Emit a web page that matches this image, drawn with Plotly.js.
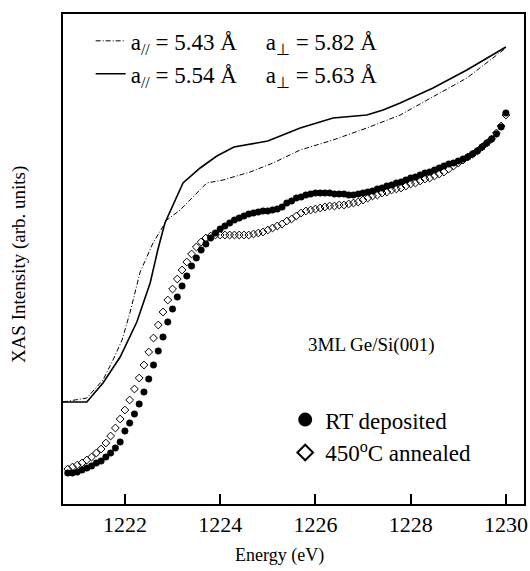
<!DOCTYPE html>
<html>
<head>
<meta charset="utf-8">
<script src="https://cdn.plot.ly/plotly-3.0.1.min.js"></script>
<style>html,body{margin:0;padding:0;background:#fff;}#chart{width:530px;height:571px;}</style>
</head>
<body>
<div id="chart"></div>
<script>
// Measured spectra (energy in eV, intensity in arbitrary units)
const energyDots = [1220.8,1220.9,1221.0,1221.1,1221.2,1221.3,1221.4,1221.5,1221.6,1221.7,1221.8,1221.9,
  1222.0,1222.1,1222.2,1222.3,1222.4,1222.5,1222.6,1222.7,1222.8,1222.9,
  1223.0,1223.1,1223.2,1223.3,1223.4,1223.5,1223.6,1223.7,1223.8,1223.9,
  1224.0,1224.1,1224.2,1224.3,1224.4,1224.5,1224.6,1224.7,1224.8,1224.9,
  1225.0,1225.1,1225.2,1225.3,1225.4,1225.5,1225.6,1225.7,1225.8,1225.9,
  1226.0,1226.1,1226.2,1226.3,1226.4,1226.5,1226.6,1226.7,1226.8,1226.9,
  1227.0,1227.1,1227.2,1227.3,1227.4,1227.5,1227.6,1227.7,1227.8,1227.9,
  1228.0,1228.1,1228.2,1228.3,1228.4,1228.5,1228.6,1228.7,1228.8,1228.9,
  1229.0,1229.1,1229.2,1229.3,1229.4,1229.5,1229.6,1229.7,1229.8,1229.9,1230.0];

const rtDeposited = [31,31,32,34,36,38,41,43,47,51,56,62,
  73,81,90,100,112,125,139,153,167,182,
  195,207,218,228,238,246,254,260,266,271,
  275,278,281,284,286,288,290,291,292,293,
  293,294,295,297,301,303,306,307,309,310,
  311,311,311,311,310,310,310,309,309,310,
  311,312,313,315,316,318,319,321,322,324,
  326,327,329,331,332,334,336,338,340,341,
  343,345,347,350,353,357,361,365,370,377,391];

const annealed450 = [35,37,39,41,44,47,51,55,61,68,76,85,
  94,104,115,126,139,152,166,179,192,204,
  215,225,234,242,250,257,262,266,268,269,
  269,269,269,269,269,269,269,270,271,272,
  274,276,278,280,283,285,288,291,293,294,
  295,296,297,298,298,299,299,300,301,302,
  304,306,308,309,311,312,314,315,316,318,
  320,321,323,325,326,328,330,332,335,338,
  341,344,347,350,353,357,361,365,371,378,389];

// Simulated spectra
const energySimA = [1220.70,1221.20,1221.54,1221.75,1221.94,1222.11,1222.32,1222.59,1222.88,1223.16,1223.51,
  1223.72,1224.06,1224.63,1225.11,1225.68,1226.37,1227.08,1227.78,1228.47,1229.18,1230.0];
const simA = [102,106,124,144,164,192,232,261,284,294,311,
  321,324,332,341,354,364,376,389,407,426,456];

const energySimB = [1220.70,1221.20,1221.54,1221.90,1222.25,1222.53,1222.69,1222.84,1223.22,1223.58,1223.93,
  1224.29,1225.00,1225.36,1225.68,1226.37,1227.08,1227.42,1227.78,1228.47,1229.18,1230.0];
const simB = [102,102,121,147,182,221,254,281,321,336,348,
  357,363,370,376,386,389,394,401,416,434,457];

const xTicks = [1222,1224,1226,1228,1230];
const labelSimA = 'a<sub>//</sub> = 5.43 Å\u00A0\u00A0\u00A0\u00A0 a<sub>⊥</sub> = 5.82 Å';
const labelSimB = 'a<sub>//</sub> = 5.54 Å\u00A0\u00A0\u00A0\u00A0 a<sub>⊥</sub> = 5.63 Å';
const labelRT = 'RT deposited';
const labelAnn = '450<sup>o</sup>C annealed';

const FONT = 'Liberation Serif, Times New Roman, serif';

const traces = [
  {x: energySimA, y: simA, type: 'scatter', mode: 'lines', name: labelSimA, legend: 'legend2',
   line: {color: '#000', width: 1, dash: '5px,2px,1px,2px'}},
  {x: energySimB, y: simB, type: 'scatter', mode: 'lines', name: labelSimB, legend: 'legend2',
   line: {color: '#000', width: 1.6}},
  {x: energyDots, y: rtDeposited, type: 'scatter', mode: 'markers', name: labelRT, legend: 'legend',
   marker: {symbol: 'circle', size: 6.5, color: '#000', line: {color: '#000', width: 0.5}}},
  {x: energyDots, y: annealed450, type: 'scatter', mode: 'markers', name: labelAnn, legend: 'legend',
   marker: {symbol: 'diamond-open', size: 6, color: '#000', line: {color: '#000', width: 1}}}
];

const layout = {
  width: 530, height: 571,
  margin: {l: 63, r: 6, t: 14, b: 67},
  paper_bgcolor: '#fff', plot_bgcolor: '#fff',
  font: {family: FONT, size: 21, color: '#000'},
  showlegend: true,
  xaxis: {
    range: [1220.70, 1230.38], tickvals: xTicks, ticktext: xTicks.map(String),
    ticks: 'inside', ticklen: 10, tickwidth: 2, tickcolor: '#000',
    showline: true, linewidth: 2, linecolor: '#000', mirror: true,
    showgrid: false, zeroline: false, tickfont: {family: FONT, size: 22}
  },
  yaxis: {
    range: [0, 490], showticklabels: false, ticks: '',
    showline: true, linewidth: 2, linecolor: '#000', mirror: true,
    showgrid: false, zeroline: false
  },
  legend: {
    x: 0.482, y: 0.216, xanchor: 'left', yanchor: 'top',
    bgcolor: 'rgba(0,0,0,0)', borderwidth: 0, itemsizing: 'constant',
    font: {family: FONT, size: 23}, tracegroupgap: 0
  },
  legend2: {
    x: 0.06, y: 0.989, xanchor: 'left', yanchor: 'top',
    bgcolor: 'rgba(0,0,0,0)', borderwidth: 0,
    font: {family: FONT, size: 23}
  },
  annotations: [
    {text: 'Energy (eV)', xref: 'paper', yref: 'paper', x: 0.47, y: -0.106,
     xanchor: 'center', yanchor: 'middle', showarrow: false, font: {family: FONT, size: 18}},
    {text: 'XAS Intensity (arb. units)', xref: 'paper', yref: 'paper', x: -0.095, y: 0.488,
     xanchor: 'center', yanchor: 'middle', textangle: -90, showarrow: false, font: {family: FONT, size: 19}},
    {text: '3ML Ge/Si(001)', xref: 'paper', yref: 'paper', x: 0.527, y: 0.3245,
     xanchor: 'left', yanchor: 'middle', showarrow: false, font: {family: FONT, size: 19}}
  ]
};

Plotly.newPlot('chart', traces, layout, {displayModeBar: false, staticPlot: true});
</script>
</body>
</html>
